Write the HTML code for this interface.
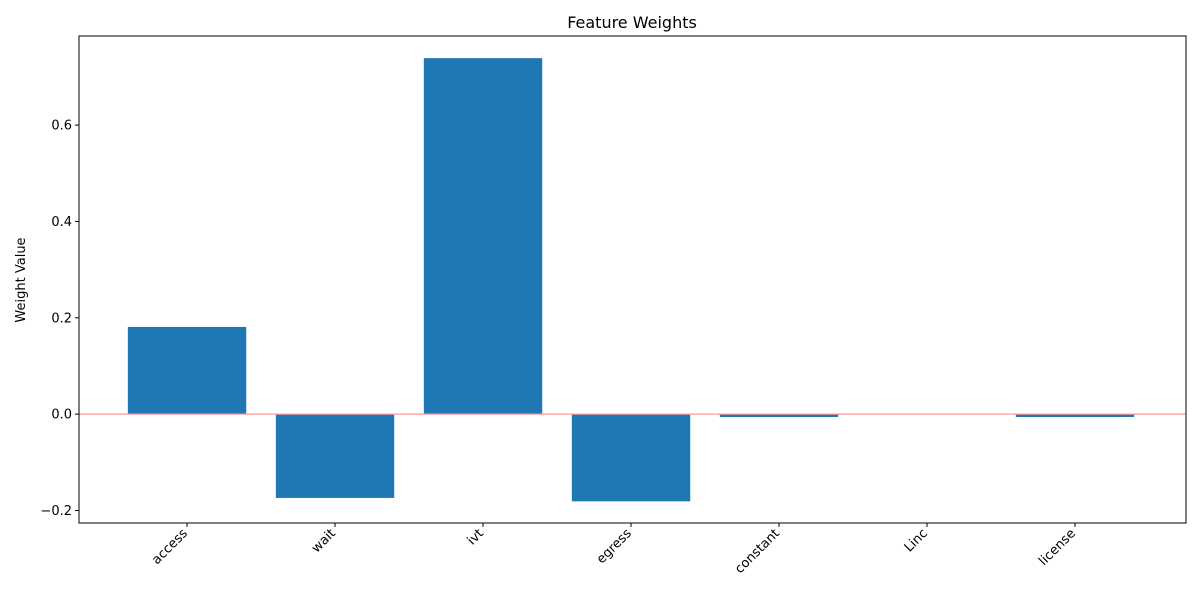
<!DOCTYPE html>
<html><head><meta charset="utf-8"><style>
body{margin:0;background:#fff;}
svg text{font-family:"DejaVu Sans","Liberation Sans",sans-serif;}
</style></head><body>
<svg id="chart" width="1200" height="600" xmlns="http://www.w3.org/2000/svg">
<rect width="1200" height="600" fill="#fff"/>
<text x="632" y="28" text-anchor="middle" font-size="16">Feature Weights</text>
<text transform="translate(25,280) rotate(-90)" text-anchor="middle" font-size="13">Weight Value</text>
<g id="plot"></g>
<rect x="79" y="36" width="1107" height="487" fill="none" stroke="#000" stroke-width="1"/>
</svg>
<script>
const categories=["access","wait","ivt","egress","constant","Linc","license"];
const weights=[0.181,-0.174,0.739,-0.181,-0.006,0,-0.006];
const yTicks=[-0.2,0.0,0.2,0.4,0.6];
const yTickLabels=["\u22120.2","0.0","0.2","0.4","0.6"];
const L=79,R=1186,T=36,B=523,yMin=-0.226,yMax=0.785,xMin=-0.73,xMax=categories.length-1+0.75;
const sx=v=>L+(v-xMin)/(xMax-xMin)*(R-L);
const sy=v=>B-(v-yMin)/(yMax-yMin)*(B-T);
const NS="http://www.w3.org/2000/svg",g=document.getElementById('plot');
function mk(t,a){const e=document.createElementNS(NS,t);for(const k in a)e.setAttribute(k,a[k]);g.appendChild(e);return e;}
const bw=(sx(0.8)-sx(0));
weights.forEach((w,i)=>{
  const y0=sy(Math.max(w,0)),y1=sy(Math.min(w,0));
  const r=mk('rect',{x:sx(i)-bw/2,y:y0,width:bw,height:Math.max(y1-y0,0),fill:'#1f77b4'});
  
  
});
const zl=mk('line',{x1:L,x2:R,y1:sy(0),y2:sy(0),stroke:'#ff9999',"stroke-width":1.3});


yTicks.forEach((v,i)=>{
  const y=sy(v);
  const tk=mk('line',{x1:L-4,x2:L,y1:y,y2:y,stroke:'#000'});
  
  
  const t=mk('text',{x:L-7,y:y+4.5,"text-anchor":"end","font-size":13});
  t.textContent=yTickLabels[i];
  
  
});
categories.forEach((c,i)=>{
  const x=sx(i);
  const tk=mk('line',{x1:x,x2:x,y1:B,y2:B+4,stroke:'#000'});
  
  
  const t=mk('text',{transform:`translate(${x+1},${B+11}) rotate(-45)`,"text-anchor":"end","font-size":13});
  t.textContent=c;
  
  
});
</script>
</body></html>
